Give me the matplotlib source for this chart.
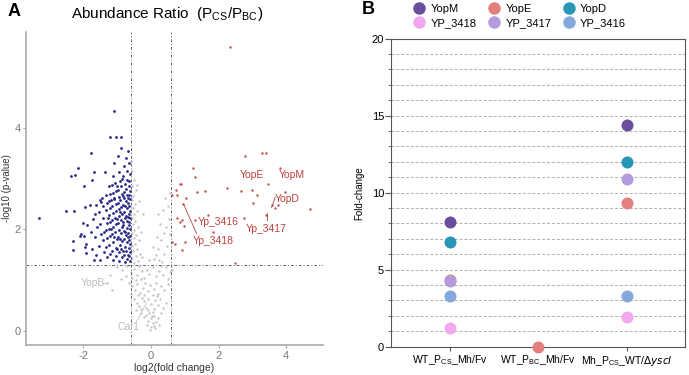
import numpy as np
import matplotlib
matplotlib.use("Agg")
import matplotlib.pyplot as plt
from matplotlib.lines import Line2D

plt.rcParams['font.family'] = ['Liberation Sans', 'DejaVu Sans']
plt.rcParams['axes.unicode_minus'] = False

# ---------------------------------------------------------------------------
# Panel A: volcano plot (approximate)
# ---------------------------------------------------------------------------
blue_pts = [
    (-0.62, 1.38), (-0.64, 1.47), (-0.63, 1.56), (-0.66, 1.63), (-0.62, 1.71), (-0.65, 1.79),
    (-0.63, 1.86), (-0.67, 1.93), (-0.62, 2.01), (-0.64, 2.08), (-0.66, 2.15), (-0.63, 2.22),
    (-0.65, 2.30), (-0.62, 2.37), (-0.64, 2.45), (-0.67, 2.52), (-0.63, 2.60), (-0.65, 2.68),
    (-0.62, 2.76), (-0.66, 2.85), (-0.64, 2.95), (-0.63, 3.08), (-0.65, 3.30), (-0.68, 3.55),
    (-0.71, 1.42), (-0.73, 1.58), (-0.70, 1.74), (-0.74, 1.88), (-0.72, 2.02), (-0.70, 2.16),
    (-0.75, 2.27), (-0.71, 2.41), (-0.73, 2.55), (-0.70, 2.67), (-0.74, 2.80), (-0.72, 2.98),
    (-0.71, 3.15), (-0.75, 3.40), (-0.78, 1.36), (-0.80, 1.50), (-0.77, 1.66), (-0.81, 1.81),
    (-0.79, 1.96), (-0.82, 2.09), (-0.78, 2.22), (-0.80, 2.35), (-0.83, 2.48), (-0.79, 2.61),
    (-0.81, 2.73), (-0.78, 2.90), (-0.82, 3.05), (-0.80, 3.25), (-0.86, 1.45), (-0.88, 1.62),
    (-0.85, 1.77), (-0.89, 1.92), (-0.87, 2.05), (-0.90, 2.19), (-0.86, 2.31), (-0.88, 2.44),
    (-0.91, 2.58), (-0.87, 2.70), (-0.89, 2.86), (-0.86, 3.00), (-0.90, 3.60), (-0.90, 3.82),
    (-0.94, 1.38), (-0.96, 1.55), (-0.93, 1.70), (-0.97, 1.85), (-0.95, 1.99), (-0.98, 2.12),
    (-0.94, 2.26), (-0.96, 2.39), (-0.99, 2.51), (-0.95, 2.64), (-0.97, 2.78), (-0.93, 2.95),
    (-0.96, 3.12), (-0.98, 3.45), (-1.03, 1.48), (-1.05, 1.64), (-1.02, 1.80), (-1.06, 1.95),
    (-1.04, 2.10), (-1.07, 2.23), (-1.03, 2.36), (-1.05, 2.50), (-1.08, 2.62), (-1.04, 2.76),
    (-1.06, 2.92), (-1.05, 3.82), (-1.08, 3.30), (-1.12, 1.40), (-1.14, 1.58), (-1.11, 1.74),
    (-1.15, 1.90), (-1.13, 2.05), (-1.16, 2.18), (-1.12, 2.32), (-1.14, 2.46), (-1.17, 2.58),
    (-1.13, 2.72), (-1.15, 2.88), (-1.12, 3.05), (-1.09, 4.33), (-1.21, 1.52), (-1.23, 1.70),
    (-1.20, 1.86), (-1.24, 2.00), (-1.22, 2.14), (-1.25, 2.28), (-1.21, 2.41), (-1.23, 2.55),
    (-1.20, 2.70), (-1.24, 2.85), (-1.20, 3.82), (-1.30, 1.45), (-1.32, 1.65), (-1.29, 1.83),
    (-1.33, 1.98), (-1.31, 2.12), (-1.34, 2.38), (-1.30, 2.52), (-1.32, 2.68), (-1.35, 3.12),
    (-1.40, 1.55), (-1.42, 1.78), (-1.39, 1.95), (-1.43, 2.22), (-1.41, 2.45), (-1.44, 2.62),
    (-1.48, 2.54), (-1.50, 1.40), (-1.53, 1.68), (-1.49, 1.90), (-1.52, 2.10), (-1.55, 2.35),
    (-1.51, 2.58), (-1.62, 1.50), (-1.65, 1.85), (-1.60, 2.05), (-1.66, 2.30), (-1.63, 2.48),
    (-1.69, 3.12), (-1.70, 1.39), (-1.75, 1.62), (-1.78, 1.95), (-1.73, 2.20), (-1.80, 2.47),
    (-1.78, 3.50), (-1.75, 2.97), (-1.92, 1.53), (-1.95, 1.66), (-1.93, 1.72), (-1.88, 2.08),
    (-1.95, 2.44), (-1.98, 2.85), (-1.97, 1.87), (-2.02, 2.12), (-2.10, 1.87), (-2.08, 1.90),
    (-2.16, 3.20), (-2.27, 2.36), (-2.30, 1.59), (-2.32, 1.76), (-2.37, 3.05), (-2.51, 2.36),
    (-2.25, 3.07), (-3.30, 2.22),
    (-0.68, 1.50), (-0.69, 1.85), (-0.68, 2.25), (-0.69, 2.62), (-0.76, 1.95), (-0.77, 2.45),
    (-0.84, 1.58), (-0.84, 2.15), (-0.83, 2.65), (-0.92, 1.80), (-0.92, 2.35), (-1.00, 1.62),
    (-1.00, 2.20), (-1.01, 2.86), (-1.10, 1.85), (-1.10, 2.60), (-1.18, 2.00), (-1.27, 2.22),
]

gray_pts = [
    (-0.55, 3.15), (-0.50, 2.98), (-0.57, 2.85), (-0.45, 2.78), (-0.52, 2.66), (-0.56, 2.58),
    (-0.48, 2.50), (-0.54, 2.42), (-0.42, 2.36), (-0.50, 2.30), (-0.56, 2.22), (-0.46, 2.16),
    (-0.53, 2.10), (-0.38, 2.05), (-0.49, 1.99), (-0.55, 1.93), (-0.44, 1.88), (-0.51, 1.82),
    (-0.35, 1.78), (-0.47, 1.72), (-0.56, 1.68), (-0.41, 1.62), (-0.52, 1.57), (-0.33, 1.52),
    (-0.45, 1.48), (-0.55, 1.43), (-0.39, 1.38), (-0.50, 1.33), (-0.28, 1.45), (-0.30, 1.95),
    (-0.25, 2.30), (-0.35, 2.55), (-0.40, 2.88), (-0.58, 3.35),
    (0.15, 1.50), (0.22, 1.62), (0.30, 1.78), (0.38, 1.92), (0.45, 2.05), (0.52, 2.20),
    (0.50, 2.45), (0.42, 2.62), (0.35, 2.38), (0.27, 2.10), (0.18, 1.85), (0.10, 1.42),
    (0.48, 1.68), (0.55, 1.90), (0.40, 1.52), (0.32, 1.35), (0.57, 2.72), (0.20, 2.30),
    (0.05, 1.65), (-0.05, 1.40), (0.25, 1.40),
    (-1.00, 1.25), (-0.85, 1.20), (-0.70, 1.28), (-0.60, 1.15), (-0.50, 1.22), (-0.42, 1.10),
    (-0.35, 1.27), (-0.28, 1.18), (-0.20, 1.05), (-0.12, 1.20), (-0.05, 1.12), (0.05, 1.25),
    (0.15, 1.08), (0.25, 1.18), (0.35, 1.10), (0.45, 1.25), (0.55, 1.15), (-0.55, 1.05),
    (-0.75, 1.08), (-0.45, 1.00), (-0.30, 1.02), (0.30, 1.28), (0.50, 1.02), (-1.20, 1.10),
    (-0.90, 1.02), (0.62, 1.20),
    (-1.30, 0.95), (-0.65, 0.95), (-0.55, 0.88), (-0.48, 0.80), (-0.40, 0.92), (-0.33, 0.75),
    (-0.25, 0.85), (-0.18, 0.95), (-0.10, 0.78), (-0.02, 0.90), (0.08, 0.82), (0.15, 0.95),
    (0.22, 0.72), (0.30, 0.88), (0.40, 0.80), (0.50, 0.92), (-0.38, 0.70), (-0.58, 0.72),
    (0.05, 0.70), (-0.22, 0.70), (-1.16, 0.80),
    (-0.50, 0.62), (-0.42, 0.55), (-0.35, 0.48), (-0.28, 0.65), (-0.20, 0.58), (-0.15, 0.45),
    (-0.08, 0.62), (0.00, 0.52), (0.08, 0.42), (0.12, 0.60), (0.20, 0.50), (0.28, 0.62),
    (0.35, 0.45), (-0.10, 0.40), (-0.30, 0.42), (0.45, 0.55), (0.18, 0.68), (-0.45, 0.40),
    (-0.30, 0.35), (-0.22, 0.28), (-0.15, 0.32), (-0.08, 0.20), (0.00, 0.25), (0.05, 0.15),
    (0.00, 0.08), (-0.03, 0.02), (0.10, 0.30), (0.15, 0.18), (0.20, 0.25), (0.25, 0.12),
    (0.12, 0.05), (0.05, 0.38), (-0.12, 0.12), (0.30, 0.35), (0.08, 0.10), (0.02, 0.30),
    (-0.05, 0.35),
]

red_pts = [
    (2.34, 5.60), (2.78, 3.44), (3.30, 3.51), (3.39, 3.51), (1.23, 3.21), (1.30, 3.03),
    (3.82, 3.21), (3.46, 2.89), (0.89, 2.89), (2.24, 2.82), (2.66, 2.76), (3.00, 2.77),
    (3.13, 2.68), (3.98, 2.74), (0.73, 2.77), (1.35, 2.74), (1.60, 2.76), (0.76, 2.68),
    (1.04, 2.62), (0.96, 2.50), (0.61, 2.68), (0.76, 2.22), (0.86, 2.15), (0.91, 2.18),
    (0.99, 2.07), (0.71, 1.72), (0.62, 1.75), (0.91, 1.60), (1.00, 1.75), (1.30, 2.18),
    (1.70, 2.28), (1.84, 1.95), (2.75, 2.22), (3.03, 2.51), (3.40, 2.28), (3.67, 2.42),
    (3.57, 2.48), (3.76, 2.48), (4.72, 2.40), (0.86, 2.89), (2.49, 1.34),
]

red_labels = ['YopE', 'YopM', 'YopD', 'Yp_3416', 'Yp_3417', 'Yp_3418']
red_label_pos = [(2.98, 3.07), (4.16, 3.07), (4.02, 2.60), (2.00, 2.14), (3.42, 2.00), (1.85, 1.77)]
gray_labels = ['YopB', 'Caf1']
gray_label_pos = [(-1.72, 0.95), (-0.66, 0.08)]

fc_lim = 0.585
p_lim = 1.30

# ---------------------------------------------------------------------------
# Panel B: fold-change dot plot
# ---------------------------------------------------------------------------
conditions = ['WT_P$_{\\mathregular{CS}}$_Mh/Fv',
              'WT_P$_{\\mathregular{BC}}$_Mh/Fv',
              'Mh_P$_{\\mathregular{CS}}$_WT/$\\mathit{\\Delta yscI}$']
proteins = ['YopM', 'YopE', 'YopD', 'YP_3418', 'YP_3417', 'YP_3416']
colors = ['#6b4f9e', '#e3807e', '#2897b5', '#f2a8ef', '#b39bde', '#85a9dc']
# value per condition (nan = not detected)
yopm = [8.1, np.nan, 14.4]
yope = [4.3, 0.0, 9.3]
yopd = [6.8, np.nan, 12.0]
yp3418 = [1.2, np.nan, 1.9]
yp3417 = [4.25, np.nan, 10.9]
yp3416 = [3.3, np.nan, 3.3]
values = [yopm, yope, yopd, yp3418, yp3417, yp3416]

fig = plt.figure(figsize=(6.89, 3.75), dpi=100)

# ---------------- Panel A ----------------
axA = fig.add_axes([0.0377, 0.08, 0.431, 0.835])
bx, by = np.array(blue_pts).T
gx, gy = np.array(gray_pts).T
rx, ry = np.array(red_pts).T
axA.scatter(gx, gy, s=3, color='#c4c4c4', lw=0)
axA.scatter(bx, by, s=4, color='#2a2a8a', lw=0)
axA.scatter(rx, ry, s=3, color='#c0504d', lw=0)

dash = (0, (3, 2, 1, 2))
axA.axvline(-fc_lim, color='#666666', lw=0.7, ls=dash)
axA.axvline(fc_lim, color='#666666', lw=0.7, ls=dash)
axA.axhline(p_lim, color='#666666', lw=0.7, ls=dash)

for lab, (x, y) in zip(red_labels, red_label_pos):
    axA.text(x, y, lab, color='#c0403c', fontsize=7.5, ha='center', va='center')
for lab, (x, y) in zip(gray_labels, gray_label_pos):
    axA.text(x, y, lab, color='#bdbdbd', fontsize=7.5, ha='center', va='center')
# leader lines
axA.plot([0.96, 1.35], [2.50, 1.92], color='#c0403c', lw=0.6)
axA.plot([3.57, 3.68], [2.43, 2.64], color='#c0403c', lw=0.6)
axA.plot([3.42, 3.42], [2.32, 2.18], color='#c0403c', lw=0.6)
axA.plot([-1.45, -1.30], [0.95, 0.95], color='#c4c4c4', lw=0.6)
axA.plot([-0.45, -0.13], [0.15, 0.55], color='#c4c4c4', lw=0.6)

axA.set_xlim(-3.7, 5.09)
axA.set_ylim(-0.28, 5.89)
axA.set_xticks([-2, 0, 2, 4])
axA.set_yticks([0, 2, 4])
for s in ['top', 'right']:
    axA.spines[s].set_visible(False)
for s in ['left', 'bottom']:
    axA.spines[s].set_color('#aaaaaa')
    axA.spines[s].set_linewidth(1.2)
axA.tick_params(colors='#aaaaaa', labelcolor='#777777', labelsize=8, length=2, pad=2)
axA.set_xlabel('log2(fold change)', fontsize=7.5, color='#333333', labelpad=2)
axA.set_ylabel('-log10 (p-value)', fontsize=7, color='#333333')
axA.yaxis.set_label_coords(-0.047, 0.5)

fig.text(167 / 689, 1 - 14 / 375, 'Abundance Ratio  (P$_{\\mathregular{CS}}$/P$_{\\mathregular{BC}}$)',
         ha='center', va='center', fontsize=11)
fig.text(8 / 689, 1 - 12 / 375, 'A', fontsize=13, fontweight='bold', va='center')

# ---------------- Panel B ----------------
axB = fig.add_axes([0.5675, 0.0755, 0.4267, 0.8214])
xpos = np.arange(len(conditions))
for name, col, vals in zip(proteins, colors, values):
    axB.scatter(xpos, vals, s=75, color=col, lw=0, zorder=3, clip_on=False, label=name)

axB.set_xlim(-0.668, 2.66)
axB.set_ylim(0, 20)
axB.set_yticks([0, 5, 10, 15, 20])
axB.set_yticks(np.arange(0, 21, 1), minor=True)
for yv in range(1, 20):
    axB.axhline(yv, color='#b0b0b0', lw=0.7, ls=(0, (3, 2)), zorder=1)
axB.set_xticks(xpos)
axB.set_xticklabels(conditions, fontsize=7.5)
axB.tick_params(axis='y', labelsize=8, length=4, color='#555555', pad=1)
axB.tick_params(axis='y', which='minor', length=2, color='#555555')
axB.tick_params(axis='x', length=3, color='#555555', pad=2)
for s in axB.spines.values():
    s.set_color('#555555')
    s.set_linewidth(0.8)
axB.set_ylabel('Fold-change', fontsize=7)
axB.yaxis.set_label_coords(-0.09, 0.5)

handles = [Line2D([], [], marker='o', ls='', markersize=9, markerfacecolor=c, markeredgewidth=0)
           for c in colors]
order = [0, 3, 1, 4, 2, 5]
fig.legend([handles[i] for i in order], [proteins[i] for i in order], ncol=3,
           loc='center', bbox_to_anchor=(0.753, 1 - 16 / 375), frameon=False,
           fontsize=8, handletextpad=0.3, columnspacing=0.9, labelspacing=0.3,
           handlelength=1.4)
fig.text(362 / 689, 1 - 10 / 375, 'B', fontsize=13, fontweight='bold', va='center')

fig.savefig('out.png', dpi=100)
